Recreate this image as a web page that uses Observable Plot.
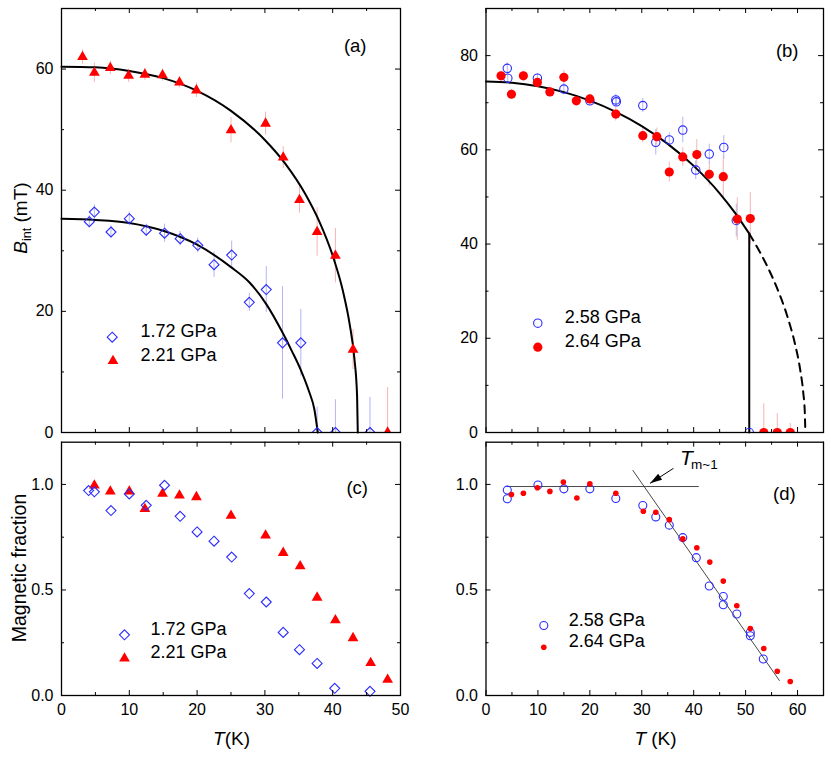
<!DOCTYPE html>
<html><head><meta charset="utf-8">
<script src="https://cdn.jsdelivr.net/npm/d3@7"></script>
<script src="https://cdn.jsdelivr.net/npm/@observablehq/plot@0.6"></script>
<style>
html,body{margin:0;padding:0;background:#fff;}
#wrap{position:relative;width:831px;height:758px;overflow:hidden;font-family:'Liberation Sans',Arial,Helvetica,sans-serif;color:#000;background:#fff;}
.pane{position:absolute;}
.lbl{position:absolute;white-space:nowrap;line-height:1;}
</style></head><body>
<div id="wrap">
  <div class="pane" id="pa" style="left:0;top:0"></div>
  <div class="pane" id="pb" style="left:440px;top:0"></div>
  <div class="pane" id="pc" style="left:0;top:437px"></div>
  <div class="pane" id="pd" style="left:440px;top:437px"></div>
  <div class="lbl" style="left:20.4px;top:218px;font-size:19px;transform:translate(-50%,-50%) rotate(-90deg);"><i>B</i><span style="font-size:12.5px;position:relative;top:4px;">int</span> (mT)</div>
  <div class="lbl" style="left:20.4px;top:567.5px;font-size:19.5px;transform:translate(-50%,-50%) rotate(-90deg);">Magnetic fraction</div>
  <div class="lbl" style="left:231.5px;top:738.4px;font-size:19px;transform:translate(-50%,-50%);"><i>T</i>(K)</div>
  <div class="lbl" style="left:655.5px;top:738.4px;font-size:19px;transform:translate(-50%,-50%);"><i>T</i> (K)</div>
  <div class="lbl" style="left:680px;top:447.2px;font-size:21px;"><i>T</i></div>
  <div class="lbl" style="left:691px;top:458px;font-size:13.5px;">m~1</div>
</div>
<script>
// ---------- Panel (a): B_int vs T ----------
const aT_172 = [4.1, 4.85, 7.3, 10.0, 12.5, 15.2, 17.5, 20.1, 22.5, 25.1, 27.7, 30.2, 32.6, 35.3, 37.7, 40.4, 45.5];
const aB_172 = [34.8, 36.4, 33.1, 35.3, 33.4, 32.9, 32.0, 30.9, 27.7, 29.3, 21.5, 23.6, 14.8, 14.8, 0, 0, 0];
const aE_172 = [1.0, 1.2, 1.0, 1.1, 1.0, 1.5, 1.2, 1.2, 2.1, 2.3, 1.5, 3.8, 9.3, 5.5, 4.2, 5.4, 5.8];
const aT_221 = [3.1, 4.85, 7.2, 9.9, 12.3, 14.9, 17.4, 19.9, 25.0, 30.1, 32.7, 35.1, 37.7, 40.4, 43.0, 48.1];
const aB_221 = [62.0, 59.4, 60.2, 58.9, 59.1, 59.0, 57.8, 56.5, 49.9, 51.0, 45.4, 38.4, 33.1, 29.2, 13.7, 0];
const aE_221 = [1.2, 1.6, 1.1, 1.1, 1.0, 1.0, 0.9, 1.2, 2.1, 1.9, 1.8, 2.2, 4.0, 4.5, 3.3, 7.4];
const aFitT_221 = [0, 5, 10, 15, 20, 25, 30, 33, 36, 38, 40, 41.5, 42.5, 43.2, 43.6, 43.7];
const aFitB_221 = [60.4, 60.3, 59.7, 58.5, 56.4, 53.1, 48.3, 44.4, 39.3, 34.9, 29.2, 23.4, 17.9, 12.2, 5.9, 0];
const aFitT_172 = [0, 5, 10, 15, 20, 25, 27.7, 30.2, 32.6, 34, 35.3, 36.5, 37.3, 37.8];
const aFitB_172 = [35.3, 35.1, 34.6, 33.3, 31.0, 27.3, 24.8, 21.2, 16.5, 13.4, 10.3, 6.8, 3.8, 0];
const aLegend = ["1.72 GPa", "2.21 GPa"];

// ---------- Panel (b): B_int vs T ----------
const bT_258 = [4.1, 4.2, 9.9, 15.0, 20.0, 25.0, 25.1, 30.2, 32.7, 35.3, 37.9, 40.4, 43.0, 45.8, 48.2, 50.7];
const bB_258 = [77.3, 75.2, 75.2, 72.9, 70.4, 70.6, 70.2, 69.4, 61.6, 62.1, 64.2, 55.7, 59.1, 60.5, 45.0, 0];
const bE_258 = [1.2, 1.0, 1.0, 1.2, 1.0, 1.2, 1.0, 1.5, 2.7, 1.5, 2.7, 2.0, 2.1, 2.5, 3.5, 0];
const bT_264 = [2.9, 4.9, 7.2, 9.9, 12.3, 15.0, 17.4, 20.0, 25.0, 30.2, 32.9, 35.3, 37.9, 40.6, 43.0, 45.7, 48.4, 50.9, 53.5, 56.1, 58.6];
const bB_264 = [75.7, 71.8, 75.7, 74.3, 72.3, 75.4, 70.4, 70.8, 67.6, 63.0, 62.8, 55.3, 58.5, 59.0, 54.8, 54.3, 45.3, 45.4, 0, 0, 0];
const bE_264 = [1.0, 1.0, 1.0, 1.0, 1.0, 1.5, 1.0, 1.0, 1.5, 1.5, 1.8, 2.1, 2.0, 3.2, 2.5, 4.6, 4.5, 5.5, 6.1, 4.0, 1.9];
const bFitT = [0, 5, 10, 15, 20, 25, 30, 35, 40, 45, 48, 50.7];
const bFitB = [74.5, 74.25, 73.5, 72.25, 70.45, 68.06, 65.03, 61.26, 56.59, 50.78, 46.57, 42.2];
const bDashT = [50.7, 52, 54, 56, 58, 59.5, 60.5, 61.1, 61.4, 61.5];
const bDashB = [42.2, 39.78, 35.66, 30.79, 24.78, 18.85, 13.39, 8.48, 4.25, 0];
const bDropT = [50.7, 50.7];
const bDropB = [42.2, 0];
const bLegend = ["2.58 GPa", "2.64 GPa"];

// ---------- Panel (c): magnetic fraction ----------
const cT_172 = [4.0, 4.85, 7.3, 10.0, 12.5, 15.2, 17.5, 20.0, 22.5, 25.1, 27.7, 30.2, 32.7, 35.1, 37.7, 40.3, 45.5];
const cF_172 = [0.971, 0.965, 0.876, 0.955, 0.901, 0.996, 0.849, 0.775, 0.731, 0.656, 0.483, 0.443, 0.299, 0.217, 0.152, 0.034, 0.020];
const cT_221 = [4.85, 7.2, 10.0, 12.3, 14.9, 17.4, 19.9, 25.0, 30.1, 32.7, 35.2, 37.7, 40.4, 43.0, 45.6, 48.1];
const cF_221 = [0.995, 0.967, 0.967, 0.884, 0.956, 0.948, 0.940, 0.852, 0.758, 0.676, 0.613, 0.464, 0.357, 0.272, 0.154, 0.075];

// ---------- Panel (d): magnetic fraction ----------
const dT_258 = [4.1, 4.1, 10.0, 15.0, 20.0, 25.0, 30.2, 32.7, 35.3, 37.9, 40.5, 43.0, 45.7, 45.7, 48.3, 50.9, 50.9, 53.4];
const dF_258 = [0.973, 0.932, 0.997, 0.979, 0.979, 0.933, 0.900, 0.846, 0.807, 0.748, 0.653, 0.519, 0.469, 0.430, 0.386, 0.299, 0.283, 0.173];
const dT_264 = [4.9, 7.2, 9.9, 12.3, 14.9, 17.5, 20.0, 25.0, 30.3, 32.7, 35.3, 37.9, 40.6, 43.1, 45.7, 48.3, 50.9, 53.5, 56.1, 58.6];
const dF_264 = [0.952, 0.958, 0.984, 0.967, 1.011, 0.936, 1.003, 0.958, 0.873, 0.868, 0.833, 0.742, 0.700, 0.632, 0.542, 0.425, 0.317, 0.223, 0.115, 0.066];
const dFlatT = [4.1, 40.9];
const dFlatF = [0.99, 0.99];
const dSlopeT = [28.3, 56.5];
const dSlopeF = [1.066, 0.071];
const dArrowT = [36.1, 31.6];
const dArrowF = [1.076, 1.005];

// ---------- Axis ticks ----------
const aYLabels = [0, 20, 40, 60];
const bYLabels = [0, 20, 40, 60, 80];
const fYLabels = [0, 0.5, 1.0];
const cXLabels = [0, 10, 20, 30, 40, 50];
const dXLabels = [0, 10, 20, 30, 40, 50, 60];
const panelLetters = ["(a)", "(b)", "(c)", "(d)"];

// ---------- styles ----------
const FONT = "'Liberation Sans', Arial, Helvetica, sans-serif";
const RED = "#ff0000", BLUE = "#2b2bff", RED_ERR = "#f5b4b4", BLUE_ERR = "#b4b4f5";

const pts = (T, V) => T.map((t, i) => ({t, v: V[i]}));
const errs = (T, V, E) => T.map((t, i) => ({t, lo: Math.max(0, V[i] - E[i]), hi: V[i] + E[i]}));
const range = (a, b, s) => d3.range(a, b + s / 2, s);

function innerTicks(xMajor, xMinor, yMajor, yMinor, W, H) {
  const out = [];
  const add = (vals, len, dir) => {
    if (dir === "x") {
      out.push(Plot.tickX(vals, {x: d => d, insetTop: H - len, stroke: "black", strokeWidth: 1}));
      out.push(Plot.tickX(vals, {x: d => d, insetBottom: H - len, stroke: "black", strokeWidth: 1}));
    } else {
      out.push(Plot.tickY(vals, {y: d => d, insetRight: W - len, stroke: "black", strokeWidth: 1}));
      out.push(Plot.tickY(vals, {y: d => d, insetLeft: W - len, stroke: "black", strokeWidth: 1}));
    }
  };
  add(xMajor, 5, "x"); add(xMinor, 3, "x");
  add(yMajor, 5, "y"); add(yMinor, 3, "y");
  return out;
}

function makePlot(o) {
  return Plot.plot({
    width: o.W, height: o.H,
    marginLeft: o.mL, marginRight: o.mR, marginTop: o.mT, marginBottom: o.mB,
    x: {domain: o.xDomain, axis: o.xAxis ? undefined : null},
    y: {domain: o.yDomain, axis: null},
    style: {background: "transparent", overflow: "visible", fontFamily: FONT, fontSize: "16px", color: "black"},
    marks: o.marks
  });
}

const letter = (txt, dx, dy) => Plot.text([txt], {frameAnchor: "top-right", dx, dy, text: d => d, fontSize: 18.5, textAnchor: "middle"});
const legText = (txt, dx, dy) => Plot.text([txt], {frameAnchor: "bottom-left", dx, dy, text: d => d, fontSize: 18, textAnchor: "start"});

// ---------- (a) ----------
{
  const W = 339, H = 424;
  const marks = [
    Plot.ruleX(errs(aT_221, aB_221, aE_221), {x: "t", y1: "lo", y2: "hi", stroke: RED_ERR, strokeWidth: 1}),
    Plot.ruleX(errs(aT_172, aB_172, aE_172), {x: "t", y1: "lo", y2: "hi", stroke: BLUE_ERR, strokeWidth: 1}),
    Plot.line(pts(aFitT_221, aFitB_221), {x: "t", y: "v", curve: "monotone-x", stroke: "black", strokeWidth: 2}),
    Plot.line(pts(aFitT_172, aFitB_172), {x: "t", y: "v", curve: "monotone-x", stroke: "black", strokeWidth: 2}),
    Plot.dot(pts(aT_172, aB_172), {x: "t", y: "v", symbol: "diamond2", r: 4.5, stroke: BLUE, fill: "none", strokeWidth: 1.1, clip: true}),
    Plot.dot(pts(aT_221, aB_221), {x: "t", y: "v", symbol: "triangle", r: 4, fill: RED, stroke: "none", clip: true}),
    Plot.frame({stroke: "black", strokeWidth: 1.3}),
    ...innerTicks(range(0, 50, 10), range(5, 45, 10), range(0, 60, 20), range(10, 70, 20), W, H),
    Plot.axisY(aYLabels, {anchor: "left", tickSize: 0, tickPadding: 8, fontSize: 16, label: null}),
    Plot.dot([0], {frameAnchor: "bottom-left", dx: 50.7, dy: -95.3, symbol: "diamond2", r: 4.5, stroke: BLUE, fill: "none", strokeWidth: 1.1}),
    Plot.dot([0], {frameAnchor: "bottom-left", dx: 51.5, dy: -71.5, symbol: "triangle", r: 4, fill: RED}),
    legText(aLegend[0], 79, -95.3),
    legText(aLegend[1], 79, -72),
    letter(panelLetters[0], -45.3, 30.3)
  ];
  document.getElementById("pa").appendChild(makePlot({W: 440, H: 437, mL: 61, mR: 40, mT: 8, mB: 5, xDomain: [0, 50], yDomain: [0, 70], marks}));
}

// ---------- (b) ----------
{
  const W = 337.5, H = 424;
  const marks = [
    Plot.ruleX(errs(bT_264, bB_264, bE_264), {x: "t", y1: "lo", y2: "hi", stroke: RED_ERR, strokeWidth: 1}),
    Plot.ruleX(errs(bT_258, bB_258, bE_258), {x: "t", y1: "lo", y2: "hi", stroke: BLUE_ERR, strokeWidth: 1}),
    Plot.line(pts(bFitT, bFitB), {x: "t", y: "v", curve: "monotone-x", stroke: "black", strokeWidth: 2}),
    Plot.line(pts(bDashT, bDashB), {x: "t", y: "v", curve: "monotone-x", stroke: "black", strokeWidth: 2, strokeDasharray: "8,6"}),
    Plot.line(pts(bDropT, bDropB), {x: "t", y: "v", curve: "linear", stroke: "black", strokeWidth: 2}),
    Plot.dot(pts(bT_258, bB_258), {x: "t", y: "v", symbol: "circle", r: 4.2, stroke: BLUE, fill: "none", strokeWidth: 1.1, clip: true}),
    Plot.dot(pts(bT_264, bB_264), {x: "t", y: "v", symbol: "circle", r: 4.6, fill: RED, stroke: "none", clip: true}),
    Plot.frame({stroke: "black", strokeWidth: 1.3}),
    ...innerTicks(range(0, 60, 10), range(5, 65, 10), range(0, 80, 20), range(10, 90, 20), W, H),
    Plot.axisY(bYLabels, {anchor: "left", tickSize: 0, tickPadding: 8, fontSize: 16, label: null}),
    Plot.dot([0], {frameAnchor: "bottom-left", dx: 51.8, dy: -109.3, symbol: "circle", r: 4.2, stroke: BLUE, fill: "none", strokeWidth: 1.1}),
    Plot.dot([0], {frameAnchor: "bottom-left", dx: 51.8, dy: -85.3, symbol: "circle", r: 4.6, fill: RED}),
    legText(bLegend[0], 78.8, -109.3),
    legText(bLegend[1], 78.8, -85.3),
    letter(panelLetters[1], -36.3, 35.3)
  ];
  document.getElementById("pb").appendChild(makePlot({W: 391, H: 437, mL: 45.5, mR: 8, mT: 8, mB: 5, xDomain: [0, 65], yDomain: [0, 90], marks}));
}

// ---------- (c) ----------
{
  const W = 339, H = 253.3;
  const marks = [
    Plot.dot(pts(cT_221, cF_221), {x: "t", y: "v", symbol: "triangle", r: 4, fill: RED, stroke: "none"}),
    Plot.dot(pts(cT_172, cF_172), {x: "t", y: "v", symbol: "diamond2", r: 4.5, stroke: BLUE, fill: "none", strokeWidth: 1.1}),
    Plot.frame({stroke: "black", strokeWidth: 1.3}),
    ...innerTicks(range(0, 50, 10), range(5, 45, 10), range(0, 1, 0.5), [0.25, 0.75], W, H),
    Plot.axisY(fYLabels, {anchor: "left", tickSize: 0, tickPadding: 8, fontSize: 16, label: null, tickFormat: d3.format(".1f")}),
    Plot.axisX(cXLabels, {anchor: "bottom", tickSize: 0, tickPadding: 8, fontSize: 16, label: null, tickFormat: d => String(d)}),
    Plot.dot([0], {frameAnchor: "bottom-left", dx: 63, dy: -60.7, symbol: "diamond2", r: 4.5, stroke: BLUE, fill: "none", strokeWidth: 1.1}),
    Plot.dot([0], {frameAnchor: "bottom-left", dx: 63, dy: -37, symbol: "triangle", r: 4, fill: RED}),
    legText(aLegend[0], 89, -60.7),
    legText(aLegend[1], 89, -37.3),
    letter(panelLetters[2], -43.3, 38.3)
  ];
  document.getElementById("pc").appendChild(makePlot({W: 440, H: 321, mL: 61, mR: 40, mT: 4.7, mB: 63, xDomain: [0, 50], yDomain: [0, 1.2], xAxis: true, marks}));
}

// ---------- (d) ----------
{
  const W = 337.5, H = 253.3;
  const arrowHead = {draw(ctx) { ctx.moveTo(0, 0); ctx.lineTo(11.96, -3.67); ctx.lineTo(8.1, -9.53); ctx.closePath(); }};
  const marks = [
    Plot.line(pts(dFlatT, dFlatF), {x: "t", y: "v", stroke: "#333", strokeWidth: 0.9}),
    Plot.line(pts(dSlopeT, dSlopeF), {x: "t", y: "v", stroke: "#333", strokeWidth: 0.9}),
    Plot.link([0], {x1: () => dArrowT[0], y1: () => dArrowF[0], x2: () => dArrowT[1], y2: () => dArrowF[1], stroke: "black", strokeWidth: 1}),
    Plot.dot([0], {x: () => dArrowT[1], y: () => dArrowF[1], symbol: arrowHead, r: 4, fill: "black", stroke: "none"}),
    Plot.dot(pts(dT_258, dF_258), {x: "t", y: "v", symbol: "circle", r: 4, stroke: BLUE, fill: "none", strokeWidth: 1.1}),
    Plot.dot(pts(dT_264, dF_264), {x: "t", y: "v", symbol: "circle", r: 2.8, fill: RED, stroke: "none"}),
    Plot.frame({stroke: "black", strokeWidth: 1.3}),
    ...innerTicks(range(0, 60, 10), range(5, 65, 10), range(0, 1, 0.5), [0.25, 0.75], W, H),
    Plot.axisY(fYLabels, {anchor: "left", tickSize: 0, tickPadding: 8, fontSize: 16, label: null, tickFormat: d3.format(".1f")}),
    Plot.axisX(dXLabels, {anchor: "bottom", tickSize: 0, tickPadding: 8, fontSize: 16, label: null, tickFormat: d => String(d)}),
    Plot.dot([0], {frameAnchor: "bottom-left", dx: 57.8, dy: -70, symbol: "circle", r: 4, stroke: BLUE, fill: "none", strokeWidth: 1.1}),
    Plot.dot([0], {frameAnchor: "bottom-left", dx: 57.8, dy: -48.3, symbol: "circle", r: 2.8, fill: RED}),
    legText(bLegend[0], 82.8, -70),
    legText(bLegend[1], 82.8, -48.3),
    letter(panelLetters[3], -39.2, 45)
  ];
  document.getElementById("pd").appendChild(makePlot({W: 391, H: 321, mL: 45.5, mR: 8, mT: 4.7, mB: 63, xDomain: [0, 65], yDomain: [0, 1.2], xAxis: true, marks}));
}
</script>
</body></html>
